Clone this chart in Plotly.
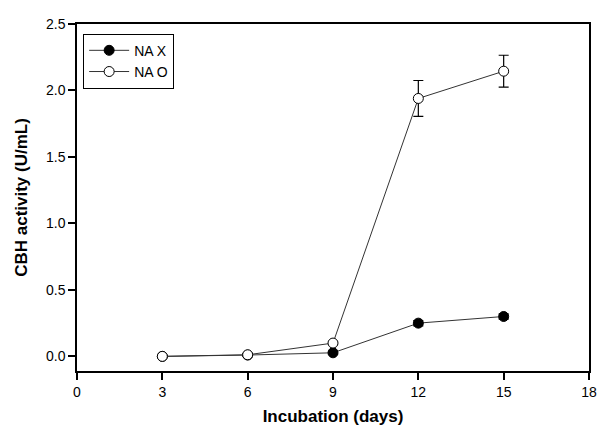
import plotly.graph_objects as go

days = [3, 6, 9, 12, 15]
na_x = [0.0, 0.01, 0.027, 0.25, 0.30]
na_x_err = [0.005, 0.008, 0.01, 0.02, 0.02]
na_o = [0.0, 0.012, 0.10, 1.94, 2.145]
na_o_err = [0.005, 0.008, 0.01, 0.135, 0.12]

x_ticks = [0, 3, 6, 9, 12, 15, 18]
y_ticks = [0.0, 0.5, 1.0, 1.5, 2.0, 2.5]

fig = go.Figure()
fig.add_trace(go.Scatter(
    x=days, y=na_x, name="NA X", mode="lines+markers",
    line=dict(color="#333333", width=1),
    marker=dict(symbol="circle", size=10, color="black", line=dict(color="black", width=1)),
    error_y=dict(type="data", array=na_x_err, color="black", thickness=1.2, width=5),
))
fig.add_trace(go.Scatter(
    x=days, y=na_o, name="NA O", mode="lines+markers",
    line=dict(color="#333333", width=1),
    marker=dict(symbol="circle", size=10, color="white", line=dict(color="black", width=1)),
    error_y=dict(type="data", array=na_o_err, color="black", thickness=1.2, width=5),
))

fig.update_layout(
    width=598, height=424,
    margin=dict(l=69, r=17, t=8, b=61),
    plot_bgcolor="white", paper_bgcolor="white",
    font=dict(family="Liberation Sans, Arial, sans-serif", size=14, color="black"),
    showlegend=True,
    legend=dict(x=0.012, y=0.972, xanchor="left", yanchor="top",
                bordercolor="black", borderwidth=1, bgcolor="white",
                font=dict(size=14), tracegroupgap=0, itemwidth=40),
)
fig.update_xaxes(
    range=[0, 18], tickvals=x_ticks, ticktext=[str(v) for v in x_ticks],
    showgrid=False, zeroline=False, showline=True, linecolor="black", linewidth=1.5,
    mirror=True, ticks="outside", ticklen=7, tickcolor="black", tickwidth=1.5,
    title=dict(text="<b>Incubation (days)</b>", font=dict(size=17), standoff=12),
)
fig.update_yaxes(
    range=[-0.11, 2.5], tickvals=y_ticks, ticktext=[f"{v:.1f}" for v in y_ticks],
    showgrid=False, zeroline=False, showline=True, linecolor="black", linewidth=1.5,
    mirror=True, ticks="outside", ticklen=7, tickcolor="black", tickwidth=1.5,
    title=dict(text="<b>CBH activity (U/mL)</b>", font=dict(size=17), standoff=14),
)

fig.write_html("out.html")
